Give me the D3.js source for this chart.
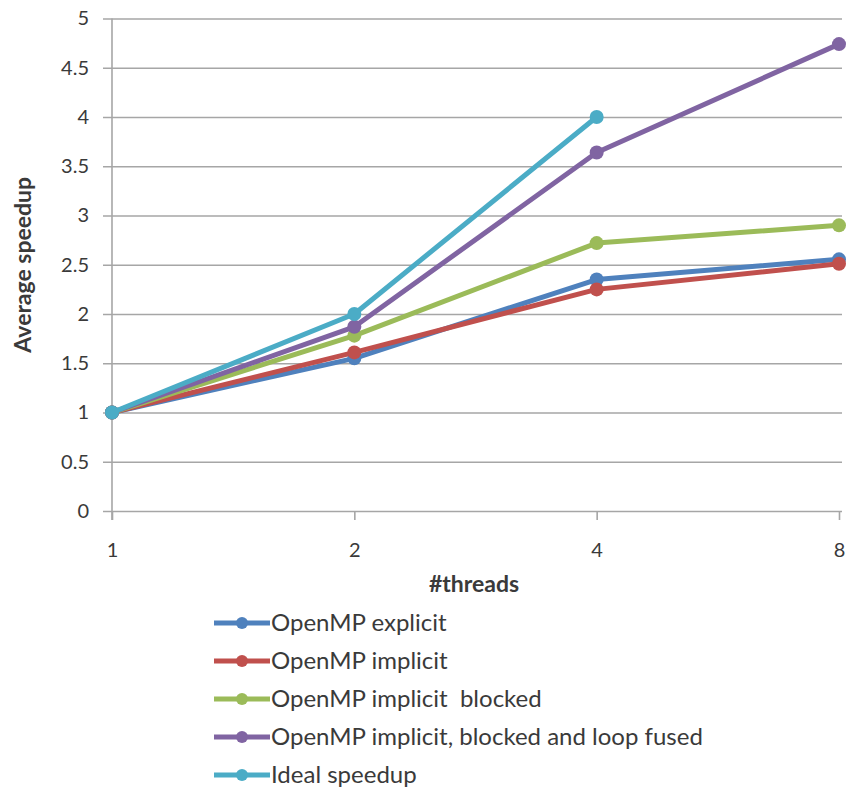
<!DOCTYPE html>
<html>
<head>
<meta charset="utf-8">
<script src="https://cdn.jsdelivr.net/npm/d3@7"></script>
<style>
  html, body { margin: 0; padding: 0; background: #fff; }
  svg text { font-family: Lato, "Open Sans", sans-serif; fill: #3a3a3a; white-space: pre; }
</style>
</head>
<body>
<svg id="chart" width="846" height="789"></svg>
<script>
// Thread counts on the category axis
const threads = ["1", "2", "4", "8"];
const yTicks = [0, 0.5, 1, 1.5, 2, 2.5, 3, 3.5, 4, 4.5, 5];

// Average speedup per variant (null = not measured)
const explicitSpeedup = [1, 1.55, 2.35, 2.555];
const implicitSpeedup = [1, 1.61, 2.25, 2.51];
const blockedSpeedup = [1, 1.78, 2.72, 2.90];
const fusedSpeedup = [1, 1.87, 3.64, 4.74];
const idealSpeedup = [1, 2, 4, null];

const seriesNames = [
  "OpenMP explicit",
  "OpenMP implicit",
  "OpenMP implicit  blocked",
  "OpenMP implicit, blocked and loop fused",
  "Ideal speedup"
];
const seriesColors = ["#4F81BD", "#C0504D", "#9BBB59", "#8064A2", "#4BACC6"];
const seriesValues = [explicitSpeedup, implicitSpeedup, blockedSpeedup, fusedSpeedup, idealSpeedup];

const svg = d3.select("#chart");
const plotLeft = 112, plotRight = 839, plotTop = 18.5, plotBottom = 511;

const x = d3.scalePoint().domain(threads).range([plotLeft, plotRight]);
const y = d3.scaleLinear().domain([0, 5]).range([plotBottom, plotTop]);

// Horizontal gridlines with y-axis labels
const yAxis = d3.axisLeft(y).tickValues(yTicks).tickSize(-(plotRight + 3 - plotLeft + 9))
  .tickFormat(d3.format("~g"));
const gy = svg.append("g").attr("transform", `translate(${plotLeft - 9},0)`).call(yAxis);
gy.select(".domain").remove();
gy.selectAll(".tick line").attr("stroke", "#a6a6a6").attr("stroke-width", 1.6);
gy.selectAll(".tick text").attr("font-size", 20).attr("x", -14).style("fill", "#3a3a3a");

// Vertical axis line
svg.append("line").attr("x1", plotLeft).attr("x2", plotLeft).attr("y1", plotTop).attr("y2", plotBottom + 9)
  .attr("stroke", "#a6a6a6").attr("stroke-width", 1.6);

// Category axis ticks and labels
const xAxis = d3.axisBottom(x).tickSize(9).tickPadding(23);
const gx = svg.append("g").attr("transform", `translate(0,${plotBottom})`).call(xAxis);
gx.select(".domain").remove();
gx.selectAll(".tick line").attr("stroke", "#a6a6a6").attr("stroke-width", 1.6);
gx.selectAll(".tick text").attr("font-size", 20).style("fill", "#3a3a3a");

// Axis titles
svg.append("text").attr("x", 474).attr("y", 592).attr("text-anchor", "middle")
  .attr("font-size", 23).attr("font-weight", "bold").text("#threads");
svg.append("text").attr("transform", `translate(31,${(plotTop + plotBottom) / 2}) rotate(-90)`)
  .attr("text-anchor", "middle").attr("font-size", 23).attr("font-weight", "bold").text("Average speedup");

// Series lines and markers
const line = d3.line().defined(d => d.v != null).x(d => x(d.t)).y(d => y(d.v));
seriesValues.forEach((vals, i) => {
  const pts = vals.map((v, j) => ({ t: threads[j], v }));
  const g = svg.append("g");
  g.append("path").datum(pts).attr("d", line).attr("fill", "none")
    .attr("stroke", seriesColors[i]).attr("stroke-width", 5).attr("stroke-linejoin", "round");
  g.selectAll("circle").data(pts.filter(d => d.v != null)).join("circle")
    .attr("cx", d => x(d.t)).attr("cy", d => y(d.v)).attr("r", 7).attr("fill", seriesColors[i]);
});

// Legend
const legend = svg.append("g");
seriesNames.forEach((name, i) => {
  const yy = 623 + i * 38;
  legend.append("line").attr("x1", 214).attr("x2", 270).attr("y1", yy).attr("y2", yy)
    .attr("stroke", seriesColors[i]).attr("stroke-width", 5);
  legend.append("circle").attr("cx", 242).attr("cy", yy).attr("r", 6).attr("fill", seriesColors[i]);
  legend.append("text").attr("x", 271).attr("y", yy).attr("dy", "0.35em")
    .attr("font-size", 24).text(name);
});
</script>
</body>
</html>
